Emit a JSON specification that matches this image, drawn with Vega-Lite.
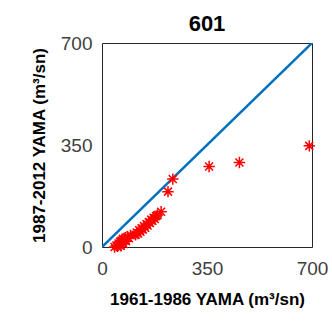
{
  "$schema": "https://vega.github.io/schema/vega-lite/v6.json",
  "autosize": "none",
  "width": 210,
  "height": 204,
  "padding": {"left": 102, "top": 43, "right": 20, "bottom": 79},
  "background": "white",
  "config": {
    "font": "Liberation Sans",
    "view": {"stroke": "#262626", "strokeWidth": 1}
  },
  "title": {"text": "601", "fontSize": 22, "fontWeight": "bold", "color": "#000000", "anchor": "middle", "offset": -2},
  "datasets": {
    "pts": [
      {"x": 42, "y": 0}, {"x": 48, "y": 5}, {"x": 52, "y": 2}, {"x": 55, "y": 12}, {"x": 58, "y": 8},
      {"x": 60, "y": 18}, {"x": 63, "y": 4}, {"x": 65, "y": 22}, {"x": 68, "y": 14}, {"x": 70, "y": 28},
      {"x": 72, "y": 10}, {"x": 75, "y": 25}, {"x": 78, "y": 32}, {"x": 80, "y": 20}, {"x": 85, "y": 35},
      {"x": 90, "y": 30}, {"x": 95, "y": 40},
      {"x": 112, "y": 42}, {"x": 116, "y": 50}, {"x": 120, "y": 46}, {"x": 124, "y": 58}, {"x": 128, "y": 52},
      {"x": 132, "y": 64}, {"x": 136, "y": 60}, {"x": 140, "y": 72}, {"x": 144, "y": 66}, {"x": 148, "y": 78},
      {"x": 152, "y": 74}, {"x": 156, "y": 86}, {"x": 160, "y": 82}, {"x": 164, "y": 94}, {"x": 168, "y": 90},
      {"x": 172, "y": 100}, {"x": 176, "y": 96}, {"x": 180, "y": 106}, {"x": 185, "y": 110},
      {"x": 197, "y": 121}, {"x": 220, "y": 190}, {"x": 236, "y": 233}, {"x": 357, "y": 276},
      {"x": 458, "y": 290}, {"x": 691, "y": 347}
    ],
    "diag": [{"x": 0, "y": 0}, {"x": 700, "y": 700}]
  },
  "layer": [
    {
      "data": {"name": "diag"},
      "mark": {"type": "line", "color": "#0072BD", "strokeWidth": 2.5, "clip": true},
      "encoding": {
        "x": {"field": "x", "type": "quantitative"},
        "y": {"field": "y", "type": "quantitative"}
      }
    },
    {
      "data": {"name": "pts"},
      "mark": {
        "type": "point",
        "shape": "M-1,0L1,0M0,-1L0,1M-0.7,-0.7L0.7,0.7M-0.7,0.7L0.7,-0.7",
        "filled": false,
        "stroke": "#FF0000",
        "strokeWidth": 1.5,
        "size": 130,
        "opacity": 1
      },
      "encoding": {
        "x": {"field": "x", "type": "quantitative"},
        "y": {"field": "y", "type": "quantitative"}
      }
    }
  ],
  "encoding": {
    "x": {
      "field": "x", "type": "quantitative",
      "scale": {"domain": [0, 700], "nice": false, "zero": false},
      "axis": {
        "values": [0, 350, 700], "grid": false, "domain": false, "ticks": false,
        "labelFontSize": 19, "labelColor": "#404040", "labelPadding": 12, "labelFlush": false,
        "title": "1961-1986 YAMA (m³/sn)", "titleFontSize": 17, "titleFontWeight": "bold", "titleColor": "#000000", "titlePadding": 13
      }
    },
    "y": {
      "field": "y", "type": "quantitative",
      "scale": {"domain": [0, 700], "nice": false, "zero": false},
      "axis": {
        "values": [0, 350, 700], "grid": false, "domain": false, "ticks": false,
        "labelFontSize": 19, "labelColor": "#404040", "labelPadding": 10, "labelFlush": false,
        "title": "1987-2012 YAMA (m³/sn)", "titleFontSize": 17, "titleFontWeight": "bold", "titleColor": "#000000", "titlePadding": 12
      }
    }
  }
}
